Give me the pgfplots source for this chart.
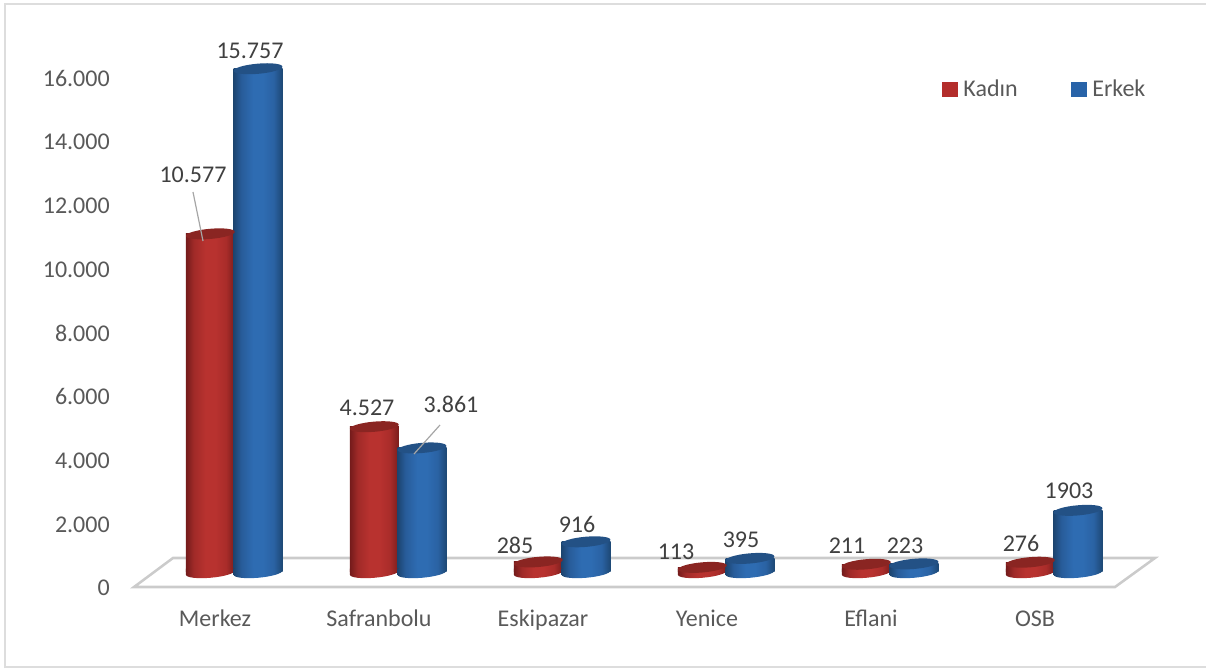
\documentclass[border=0pt]{standalone}
\usepackage{fontspec}
\setmainfont{Carlito}
\usepackage{pgfplots}
\usepackage{pgfplotstable}
\pgfplotsset{compat=1.18}
\definecolor{redtop}{HTML}{8A2522}
\definecolor{bluetop}{HTML}{235185}
\definecolor{redleg}{HTML}{B32D2B}
\definecolor{blueleg}{HTML}{2863A8}
\definecolor{floorc}{HTML}{CBCBCB}
\definecolor{framec}{HTML}{DDDDDD}
\definecolor{labc}{HTML}{404040}
\definecolor{tickc}{HTML}{595959}
\definecolor{leadc}{HTML}{A6A6A6}
\definecolor{ra}{HTML}{741B1B}
\definecolor{rb}{HTML}{A02A28}
\definecolor{rc}{HTML}{B8322F}
\definecolor{rd}{HTML}{A92C2A}
\definecolor{re}{HTML}{7A1D1C}
\definecolor{ba}{HTML}{1C4570}
\definecolor{bb}{HTML}{285C9A}
\definecolor{bc}{HTML}{2E6CB2}
\definecolor{bd}{HTML}{2A62A3}
\definecolor{be}{HTML}{1D4874}
\pgfdeclarehorizontalshading{redcyl}{100bp}{
  color(0bp)=(ra);
  color(25bp)=(ra);
  color(33bp)=(rb);
  color(45bp)=(rc);
  color(55bp)=(rc);
  color(66bp)=(rd);
  color(75bp)=(re);
  color(100bp)=(re)}
\pgfdeclarehorizontalshading{bluecyl}{100bp}{
  color(0bp)=(ba);
  color(25bp)=(ba);
  color(33bp)=(bb);
  color(45bp)=(bc);
  color(55bp)=(bc);
  color(66bp)=(bd);
  color(75bp)=(be);
  color(100bp)=(be)}
\newcommand{\cylpath}{\pgfpathellipse{\pgfpointorigin}{\pgfqpoint{18.3pt}{1.6pt}}{\pgfqpoint{-0.33pt}{3.8pt}}}
% lower half of the tilted ellipse, with straight sides up to the body of the bar
\newcommand{\cylbotpath}{%
  \pgfpathmoveto{\pgfqpoint{-18.3pt}{-1.6pt}}%
  \pgfpathlineto{\pgfqpoint{-18.3pt}{3pt}}%
  \pgfpathlineto{\pgfqpoint{18.3pt}{3pt}}%
  \pgfpathlineto{\pgfqpoint{18.3pt}{1.6pt}}%
  \pgfpathcurveto{\pgfqpoint{18.48pt}{-0.5pt}}{\pgfqpoint{10.44pt}{-2.92pt}}{\pgfqpoint{0.33pt}{-3.8pt}}%
  \pgfpathcurveto{\pgfqpoint{-9.77pt}{-4.68pt}}{\pgfqpoint{-18.12pt}{-3.7pt}}{\pgfqpoint{-18.3pt}{-1.6pt}}%
  \pgfpathclose}
\pgfdeclareplotmark{cyltop}{\cylpath\pgfusepathqfill}
\pgfdeclareplotmark{cylbotred}{\cylbotpath\pgfshadepath{redcyl}{0}\pgfusepath{discard}}
\pgfdeclareplotmark{cylbotblue}{\cylbotpath\pgfshadepath{bluecyl}{0}\pgfusepath{discard}}
\pgfplotstableread{
i kadin erkek zero
0 10577 15757 0
1 4527 3861 0
2 285 916 0
3 113 395 0
4 211 223 0
5 276 1903 0
}\datatab
% pixel position to picture position (1px = .75pt; axis corner at px 118,587)
\newcommand{\PX}[2]{({(#1-118)*0.75pt},{(587-#2)*0.75pt})}
\newcommand{\lab}[3]{\node[text=labc,font=\fontsize{18}{20}\selectfont,inner sep=0pt] at \PX{#1}{#2} {#3};}
\pgfplotsset{
  redbody/.style={forget plot,ybar,bar width=36.75pt,bar shift=0pt,draw=none,shading=redcyl,shading angle=0,xshift=-3.5pt,yshift=12pt},
  bluebody/.style={forget plot,ybar,bar width=36.75pt,bar shift=0pt,draw=none,shading=bluecyl,shading angle=0,xshift=32.25pt,yshift=12pt},
}
\begin{document}
\begin{tikzpicture}
\useasboundingbox \PX{0}{0} rectangle \PX{1206}{668};
\draw[framec,line width=1.5pt] \PX{5}{668} -- \PX{5}{4} -- \PX{1206}{4};
\draw[framec,line width=1.5pt] \PX{5}{667} -- \PX{1206}{667};
\draw[floorc,line width=1.9pt,line join=miter] \PX{134}{587} -- \PX{173}{558} -- \PX{1155}{558} -- \PX{1115}{587} -- cycle;
\begin{axis}[
  at={(0pt,0pt)},anchor=south west,
  scale only axis,width=777.75pt,height=382.5pt,
  xmin=-0.5915,xmax=5.7317,ymin=0,ymax=16000,
  clip=false,
  axis line style={draw=none},
  major tick length=0pt,
  xtick={0,1,2,3,4,5},
  xticklabels={Merkez,Safranbolu,Eskipazar,Yenice,Eflani,OSB},
  ytick={0,2000,4000,6000,8000,10000,12000,14000,16000},
  scaled y ticks=false,
  /pgf/number format/assume math mode=true,
  /pgf/number format/1000 sep={.},
  tick label style={font=\fontsize{18}{20}\selectfont,text=tickc,inner sep=0pt},
  yticklabel style={anchor=east,xshift=-6pt,yshift=-0.9pt},
  xticklabel style={anchor=base,yshift=-29.25pt},
  legend style={at={(0.7946,0.976)},anchor=west,draw=none,fill=none,inner sep=0pt,
    font=\fontsize{18}{20}\selectfont,text=tickc,legend columns=2,
    /tikz/column 2/.style={column sep=40pt},
    nodes={inner sep=0pt}},
  legend image code/.code={\fill[#1] (0pt,-5.5pt) rectangle (11pt,5.5pt);},
]
\addlegendimage{redleg,fill=redleg}
\addlegendentry{\hspace{4.5pt}Kadın}
\addlegendimage{blueleg,fill=blueleg}
\addlegendentry{\hspace{4.5pt}Erkek}
% red series
\addplot[forget plot,only marks,mark=cylbotred,xshift=-3.5pt,yshift=10.75pt] table[x=i,y=zero]{\datatab};
\addplot[redbody] coordinates {(0,10577)};
\addplot[redbody] coordinates {(1,4527)};
\addplot[redbody] coordinates {(2,285)};
\addplot[redbody] coordinates {(3,113)};
\addplot[redbody] coordinates {(4,211)};
\addplot[redbody] coordinates {(5,276)};
\addplot[forget plot,only marks,mark=cyltop,mark options={fill=redtop,draw=none},xshift=-3.5pt,yshift=12pt] table[x=i,y=kadin]{\datatab};
% blue series
\addplot[forget plot,only marks,mark=cylbotblue,xshift=32.25pt,yshift=10.75pt] table[x=i,y=zero]{\datatab};
\addplot[bluebody] coordinates {(0,15757)};
\addplot[bluebody] coordinates {(1,3861)};
\addplot[bluebody] coordinates {(2,916)};
\addplot[bluebody] coordinates {(3,395)};
\addplot[bluebody] coordinates {(4,223)};
\addplot[bluebody] coordinates {(5,1903)};
\addplot[forget plot,only marks,mark=cyltop,mark options={fill=bluetop,draw=none},xshift=32.25pt,yshift=12pt] table[x=i,y=erkek]{\datatab};
\end{axis}
\draw[leadc,line width=0.9pt] \PX{193}{192} -- \PX{203}{241};
\draw[leadc,line width=0.9pt] \PX{440}{425} -- \PX{414}{454};
\lab{250}{51}{15.757}
\lab{193}{175}{10.577}
\lab{367}{408}{4.527}
\lab{451}{404}{3.861}
\lab{515}{545}{285}
\lab{577}{524}{916}
\lab{676}{552}{113}
\lab{741}{540}{395}
\lab{847}{546}{211}
\lab{905}{546}{223}
\lab{1021}{543}{276}
\lab{1069}{491}{1903}
\end{tikzpicture}
\end{document}
